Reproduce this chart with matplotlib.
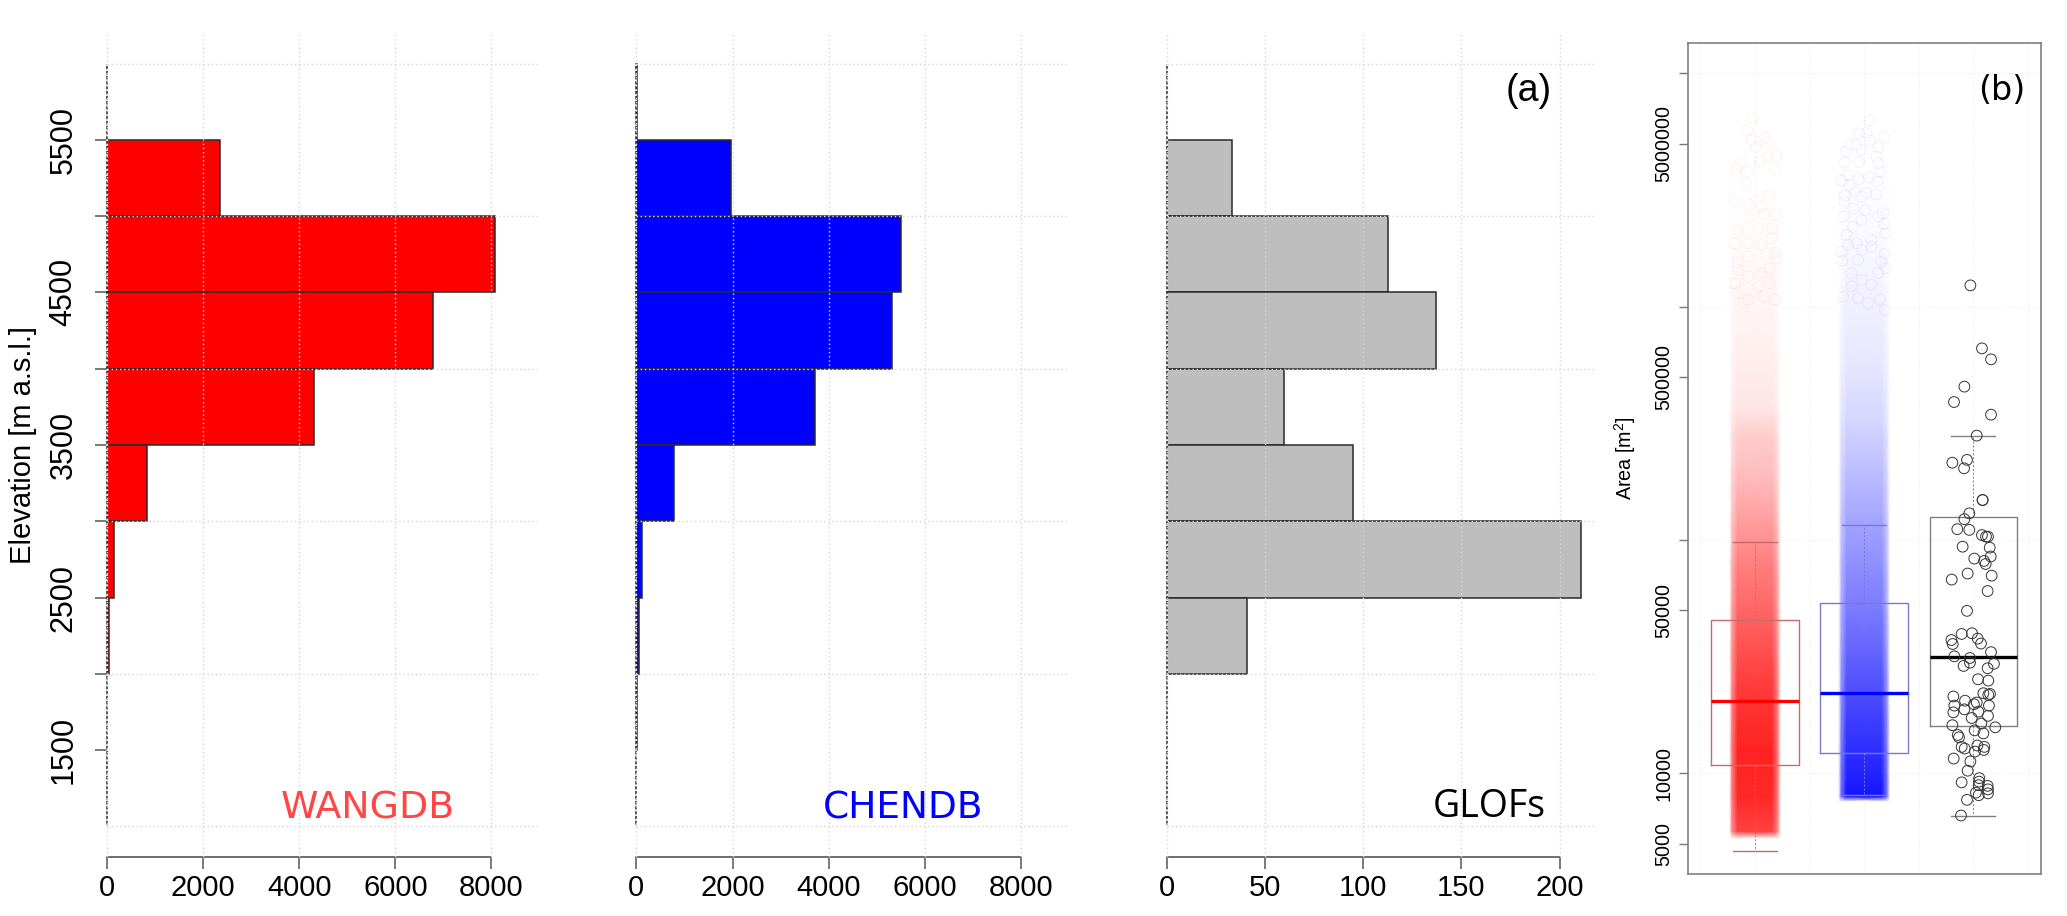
import numpy as np
import matplotlib
matplotlib.use('Agg')
import matplotlib.pyplot as plt
from matplotlib.colors import LinearSegmentedColormap

plt.rcParams['font.family'] = ['Liberation Sans', 'DejaVu Sans']
plt.rcParams['mathtext.default'] = 'regular'

# --- Histogramas de elevacion ---
bin_centers = [5750, 5250, 4750, 4250, 3750, 3250, 2750, 2250, 1750, 1250]
wang_counts = [3, 2342, 8067, 6780, 4297, 840, 149, 37, 5, 3]
chen_counts = [15, 1966, 5490, 5320, 3718, 779, 126, 45, 22, 2]
glof_counts = [0, 33, 112.5, 137, 59.5, 95, 210.7, 41, 0, 0]

hist_yticks = [5500, 5000, 4500, 4000, 3500, 3000, 2500, 2000, 1500]
hist_ylabels = ['5500', '', '4500', '', '3500', '', '2500', '', '1500']
hist_hgrid = [6000, 5000, 4000, 3000, 2000, 1000]
count_ticks = [0, 2000, 4000, 6000, 8000]
glof_ticks = [0, 50, 100, 150, 200]

# --- Boxplots (b) ---
wang_box = dict(whislo=4645, q1=10820, med=20350, q3=45500, whishi=97750)
chen_box = dict(whislo=8070, q1=12250, med=22090, q3=53850, whishi=115600)
glof_box = dict(whislo=6580, q1=15900, med=31500, q3=125900, whishi=280000)

area_ticks = [10000000, 5000000, 1000000, 500000, 100000, 50000, 10000, 5000]
area_labels = ['', '5000000', '', '500000', '', '50000', '10000', '5000']
area_grid = [10000000, 1000000, 100000, 10000]
box_vgrid = [0.5, 1, 1.5, 2, 2.5, 3, 3.5]

# densidad aparente de las nubes de puntos (log10 area, opacidad)
wang_band_log = [3.72, 3.75, 3.9, 4.1, 4.3, 4.5, 4.7, 4.9, 5.1, 5.3, 5.45, 5.55, 5.8, 6.0, 6.2, 6.45]
wang_band_op = [0, .74, .84, .86, .80, .70, .60, .50, .37, .25, .20, .11, .065, .04, .02, 0]
chen_band_log = [3.88, 3.90, 4.0, 4.1, 4.3, 4.5, 4.7, 4.9, 5.1, 5.3, 5.5, 5.7, 5.9, 6.1, 6.3, 6.6]
chen_band_op = [0, .92, .86, .82, .72, .62, .52, .44, .35, .26, .17, .11, .075, .05, .025, 0]

# circulos sueltos visibles arriba de cada nube (desplazamiento en x, log10 area)
wang_jit = [-.018, -.070, -.031, .092, .107, .006, .046, .116, .195, -.128, -.168, -.070, .189,
            -.174, -.076, -.183, .128, -.052, .055, .018, .192, .085, -.052, .153, -.153, .031,
            -.183, -.061, .061, .153, .183, -.159, .192, -.061, .137, -.153, -.061, .061, -.183,
            .031, .137, -.168, .183, -.061, .076, -.107]
wang_log = [6.811, 6.754, 6.717, 6.726, 6.700, 6.683, 6.623, 6.640, 6.646, 6.617, 6.593, 6.580, 6.590,
            6.569, 6.524, 6.451, 6.476, 6.436, 6.431, 6.457, 6.391, 6.397, 6.383, 6.336, 6.326, 6.336,
            6.271, 6.271, 6.264, 6.293, 6.229, 6.189, 6.207, 6.214, 6.164, 6.157, 6.129, 6.143, 6.100,
            6.086, 6.100, 6.057, 6.029, 6.029, 6.043, 6.014]
chen_jit = [.049, -.049, .021, .183, .058, -.070, -.140, .128, -.171, -.024, .113, -.177, -.049, .128,
            -.147, .143, .043, -.208, -.049, .119, -.131, -.085, .021, .107, -.177, -.183, -.024, .174,
            -.192, -.101, .012, .128, -.024, .183, .195, -.101, -.162, .067, -.070, -.147, -.208, .189,
            -.024, .067, -.201, .159, -.055, .195, -.116, .128, .067, -.024, -.116, -.192, .143, -.055,
            .037, .189]
chen_log = [6.797, 6.743, 6.743, 6.726, 6.711, 6.693, 6.693, 6.683, 6.664, 6.671, 6.643, 6.619, 6.619, 6.614,
            6.564, 6.579, 6.554, 6.540, 6.546, 6.536, 6.521, 6.493, 6.486, 6.481, 6.476, 6.450, 6.471, 6.400,
            6.386, 6.421, 6.414, 6.386, 6.371, 6.354, 6.314, 6.343, 6.307, 6.286, 6.271, 6.264, 6.236, 6.226,
            6.243, 6.257, 6.197, 6.193, 6.200, 6.164, 6.143, 6.143, 6.093, 6.114, 6.086, 6.043, 6.031, 6.036,
            6.014, 5.986]

# GLOFs, uno a uno
glof_jit = [-.027, .079, .162, -.082, -.177, .162, .031, -.192, -.058, -.085, .085, .085, -.037, -.082,
            -.147, -.037, .079, .116, .134, -.098, .150, .009, .159, .098, .113, -.052, .168, -.198,
            .131, -.058, -.107, -.012, .040, -.201, -.189, .070, .162, -.174, -.031, -.031, -.089, .189,
            .131, .043, .137, .092, .153, -.183, .137, -.076, .031, .006, -.174, .143, -.082, .046,
            -.183, .134, -.015, .073, -.192, .201, .012, .092, -.143, -.131, .037, -.107, -.079, .101,
            .095, .015, -.180, -.027, -.052, -.107, .055, .052, .049, .131, .134, .134, .024, .049,
            -.058, -.113]
glof_log = [6.091, 5.821, 5.774, 5.657, 5.591, 5.537, 5.447, 5.331, 5.343, 5.307, 5.171, 5.171, 5.114, 5.089,
            5.046, 5.043, 5.021, 5.014, 5.014, 4.971, 4.967, 4.920, 4.929, 4.910, 4.897, 4.856, 4.847, 4.830,
            4.781, 4.696, 4.597, 4.600, 4.577, 4.571, 4.554, 4.556, 4.519, 4.501, 4.494, 4.474, 4.460, 4.469,
            4.450, 4.403, 4.397, 4.343, 4.340, 4.329, 4.336, 4.311, 4.303, 4.296, 4.290, 4.290, 4.274, 4.264,
            4.261, 4.246, 4.237, 4.213, 4.206, 4.197, 4.184, 4.171, 4.164, 4.154, 4.119, 4.113, 4.106, 4.113,
            4.100, 4.093, 4.063, 4.051, 4.011, 3.961, 3.979, 3.964, 3.949, 3.946, 3.931, 3.914, 3.917, 3.906,
            3.886, 3.819]

W, H = 2067, 916
DARK = '#2a2a2a'
AXC = '#555555'
GRIDC = '#d6d6d6'
DOT = (0, (1, 2))

fig = plt.figure(figsize=(W / 100, H / 100), dpi=100)


def px_axes(left, right, top, bottom):
    return fig.add_axes([left / W, 1 - bottom / H, (right - left) / W, (bottom - top) / H], facecolor='none')


def histo(left, right, counts, color, xmax, ticks):
    ax = px_axes(left, right, 33, 857)
    ax.barh(bin_centers, counts, height=500, color=color, edgecolor=DARK, linewidth=1.1,
            zorder=2, clip_on=False)
    for g in hist_hgrid:
        ax.axhline(g, color=GRIDC, lw=1.0, ls=DOT, zorder=3)
    for t in ticks:
        ax.axvline(t, color=GRIDC, lw=1.0, ls=DOT, zorder=3, clip_on=False)
    # el borde en x=0 se ve punteado oscuro en el original
    ax.vlines(0, 1000, 6000, color='white', lw=1.2, ls=DOT, zorder=4, clip_on=False)
    ax.set_xlim(0, xmax)
    ax.set_ylim(800, 6200)
    ax.set_xticks(ticks)
    ax.tick_params(axis='x', length=8.6, width=1.1, color=AXC, labelsize=21, pad=4)
    ax.set_yticks([])
    for s in ['top', 'right', 'left']:
        ax.spines[s].set_visible(False)
    ax.spines['bottom'].set_bounds(ticks[0], ticks[-1])
    ax.spines['bottom'].set_color(AXC)
    ax.spines['bottom'].set_linewidth(1.2)
    return ax


ax1 = histo(107.1, 537.5, wang_counts, '#ff0000', 8960, count_ticks)
ax1.set_yticks(hist_yticks)
ax1.set_yticklabels(hist_ylabels, rotation=90, va='center')
ax1.tick_params(axis='y', length=8.6, width=1.1, color=AXC, labelsize=22, pad=12)
ax1.set_ylabel('Elevation [m a.s.l.]', fontsize=21)
ax1.yaxis.set_label_coords(-0.163, 0.5)
ax1.text(5425, 1120, 'WANGDB', color='#ff4545', fontsize=27.3, family='DejaVu Sans', ha='center', va='center')

ax2 = histo(636.4, 1067, chen_counts, '#0000ff', 8948, count_ticks)
ax2.text(5540, 1120, 'CHENDB', color='#0000ff', fontsize=27, family='DejaVu Sans', ha='center', va='center')

ax3 = histo(1166.7, 1597, glof_counts, '#bebebe', 219, glof_ticks)
ax3.text(164, 1125, 'GLOFs', color='black', fontsize=27, family='Open Sans', ha='center', va='center')
ax3.text(184, 5823, '(a)', color='black', fontsize=27, ha='center', va='center')

# --- Panel (b) ---
axb = px_axes(1687.7, 2040.7, 42.7, 874.3)
axb.set_yscale('log')
axb.set_xlim(0.384, 3.617)
axb.set_ylim(10 ** 3.567, 10 ** 7.131)
for g in area_grid:
    axb.axhline(g, color='#ececec', lw=0.8, ls=DOT, zorder=1)
for g in box_vgrid:
    axb.axvline(g, color='#ececec', lw=0.8, ls=DOT, zorder=1)

edge_x = [-.235, -.21, -.16, .16, .21, .235]
edge_fade = [0, .6, 1, 1, .6, 0]


def cloud(pos, band_log, band_op, color):
    cmap = LinearSegmentedColormap.from_list('nube', ['#ffffff', color])
    x = pos + np.array(edge_x)
    y = 10 ** np.array(band_log)
    c = np.outer(band_op, edge_fade)
    xx, yy = np.meshgrid(x, y)
    axb.pcolormesh(xx, yy, c, cmap=cmap, vmin=0, vmax=1, shading='gouraud', zorder=2)


cloud(1, wang_band_log, wang_band_op, '#ff0000')
cloud(2, chen_band_log, chen_band_op, '#0000ff')

axb.scatter(1 + np.array(wang_jit), 10 ** np.array(wang_log), s=60, facecolors='none',
            edgecolors=(1, 0, 0, .05), linewidths=0.8, zorder=3)
axb.scatter(2 + np.array(chen_jit), 10 ** np.array(chen_log), s=60, facecolors='none',
            edgecolors=(0, 0, 1, .05), linewidths=0.8, zorder=3)
axb.scatter(3 + np.array(glof_jit), 10 ** np.array(glof_log), s=60, facecolors='none',
            edgecolors='#333333', linewidths=0.7, zorder=5)


def caja(stats, pos, box_col, med_col):
    axb.bxp([dict(stats, fliers=[])], positions=[pos], widths=0.8, capwidths=0.4,
            showfliers=False, manage_ticks=False, zorder=4,
            boxprops=dict(color=box_col, lw=1.0),
            whiskerprops=dict(color=box_col, lw=0.7, ls=(0, (2, 2))),
            capprops=dict(color=box_col, lw=1.0),
            medianprops=dict(color=med_col, lw=2.4, solid_capstyle='butt'))


caja(wang_box, 1, '#c86a6a', '#ff0000')
caja(chen_box, 2, '#7a7ac8', '#0000ff')
caja(glof_box, 3, '#808080', '#000000')

axb.set_xticks([])
axb.set_yticks(area_ticks)
axb.set_yticklabels(area_labels, rotation=90, va='center')
axb.minorticks_off()
axb.tick_params(axis='y', length=6.3, width=1.0, color='#777777', labelsize=14.2, pad=4)
for s in axb.spines.values():
    s.set_color('#808080')
    s.set_linewidth(1.2)
axb.set_ylabel('Area [m$^2$]', fontsize=14.2)
axb.yaxis.set_label_coords(-0.14, 0.5)
axb.text(3.263, 8400000, '(b)', color='black', fontsize=24, family='DejaVu Sans', ha='center', va='center')

fig.savefig('out.png', dpi=100)
